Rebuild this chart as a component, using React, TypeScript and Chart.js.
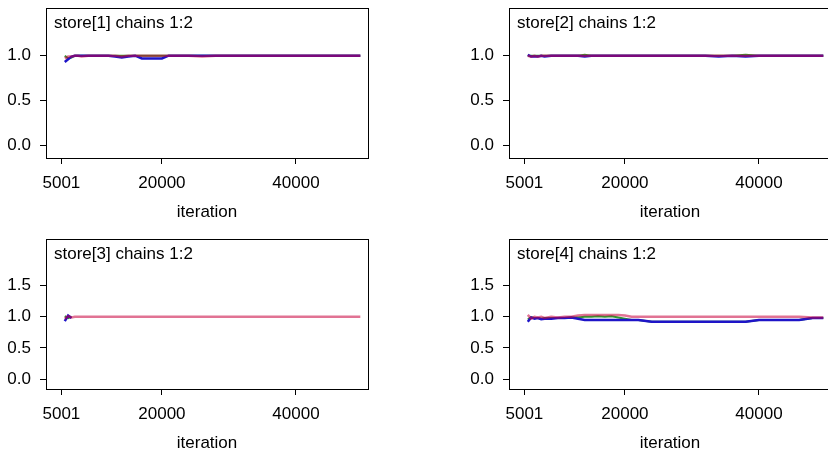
import React, { useEffect, useRef } from 'react';
import { Chart, registerables } from 'chart.js';

Chart.register(...registerables);

const iterations = [
  5501, 6001, 6501, 7001, 7501, 8001, 9001, 10001, 11001, 12001, 13001, 14001,
  15001, 16001, 17001, 18001, 19001, 20001, 21001, 22001, 24001, 26001, 28001,
  30001, 32001, 34001, 36001, 38001, 40001, 42001, 44001, 46001, 48001, 49601,
];

const xTickValues = [5001, 20000, 40000];
const yTicksTop = [0, 0.5, 1.0];
const yTicksBottom = [0, 0.5, 1.0, 1.5];

const panelTitles = [
  'store[1] chains 1:2',
  'store[2] chains 1:2',
  'store[3] chains 1:2',
  'store[4] chains 1:2',
];

// store[1]
const red1 = [0.97, 0.99, 0.99, 1.0, 1.0, 0.99, 1.0, 1.0, 1.0, 1.0, 1.0, 0.99, 1.0, 1.0, 1.0, 1.0, 1.0, 1.0, 1.0, 1.0, 1.0, 0.99, 1.0, 1.0, 1.0, 1.0, 1.0, 1.0, 1.0, 1.0, 1.0, 1.0, 1.0, 1.0];
const blue1 = [0.93, 0.96, 0.99, 1.0, 1.0, 1.0, 1.0, 1.0, 1.0, 1.0, 0.99, 0.98, 0.99, 1.0, 0.97, 0.97, 0.97, 0.97, 1.0, 1.0, 1.0, 1.0, 1.0, 1.0, 1.0, 1.0, 1.0, 1.0, 1.0, 1.0, 1.0, 1.0, 1.0, 1.0];
const green1 = [1.0, 0.97, 0.98, 1.0, 1.0, 1.0, 1.0, 1.0, 1.0, 1.0, 1.0, 1.0, 1.0, 1.0, 1.0, 1.0, 1.0, 1.0, 1.0, 1.0, 1.0, 1.0, 1.0, 1.0, 1.0, 1.0, 1.0, 1.0, 1.0, 1.0, 1.0, 1.0, 1.0, 1.0];

// store[2]
const red2 = [1.0, 0.99, 1.0, 0.99, 1.0, 1.0, 1.0, 1.0, 1.0, 1.0, 1.0, 1.0, 1.0, 1.0, 1.0, 1.0, 1.0, 1.0, 1.0, 1.0, 1.0, 1.0, 1.0, 1.0, 1.0, 1.0, 1.0, 1.0, 1.0, 1.0, 1.0, 1.0, 1.0, 1.0];
const blue2 = [1.01, 0.99, 0.99, 0.99, 1.0, 0.99, 1.0, 1.0, 1.0, 1.0, 1.0, 0.99, 1.0, 1.0, 1.0, 1.0, 1.0, 1.0, 1.0, 1.0, 1.0, 1.0, 1.0, 1.0, 1.0, 0.99, 1.0, 0.99, 1.0, 1.0, 1.0, 1.0, 1.0, 1.0];
const green2 = [1.0, 1.0, 1.0, 1.0, 1.0, 1.0, 1.0, 1.0, 1.0, 1.0, 1.0, 1.01, 1.0, 1.0, 1.0, 1.0, 1.0, 1.0, 1.0, 1.0, 1.0, 1.0, 1.0, 1.0, 1.0, 1.0, 1.0, 1.01, 1.0, 1.0, 1.0, 1.0, 1.0, 1.0];

// store[3]
const red3 = [0.97, 1.01, 0.99, 1.0, 1.0, 1.0, 1.0, 1.0, 1.0, 1.0, 1.0, 1.0, 1.0, 1.0, 1.0, 1.0, 1.0, 1.0, 1.0, 1.0, 1.0, 1.0, 1.0, 1.0, 1.0, 1.0, 1.0, 1.0, 1.0, 1.0, 1.0, 1.0, 1.0, 1.0];
const blue3 = [0.93, 1.02, 0.98, null, null, null, null, null, null, null, null, null, null, null, null, null, null, null, null, null, null, null, null, null, null, null, null, null, null, null, null, null, null, null];
const green3 = [1.01, 0.98, 1.0, null, null, null, null, null, null, null, null, null, null, null, null, null, null, null, null, null, null, null, null, null, null, null, null, null, null, null, null, null, null, null];

// store[4]
const red4 = [1.03, 0.97, 1.0, 0.99, 1.0, 0.98, 1.0, 0.99, 1.0, 1.0, 1.02, 1.03, 1.03, 1.03, 1.03, 1.03, 1.03, 1.02, 1.0, 1.0, 1.0, 1.0, 1.0, 1.0, 1.0, 1.0, 1.0, 1.0, 1.0, 1.0, 1.0, 1.0, 0.99, 0.99];
const blue4 = [0.92, 0.99, 0.97, 0.98, 0.96, 0.97, 0.97, 0.98, 0.98, 0.99, 0.97, 0.95, 0.95, 0.95, 0.95, 0.95, 0.95, 0.95, 0.95, 0.95, 0.92, 0.92, 0.92, 0.92, 0.92, 0.92, 0.92, 0.92, 0.95, 0.95, 0.95, 0.95, 0.98, 0.98];
const green4 = [0.96, 0.99, 0.98, 0.98, 0.97, 0.98, 0.98, 0.98, 0.98, 0.99, 0.99, 1.0, 1.0, 1.01, 1.0, 1.01, 0.99, 0.97, 0.95, 0.95, 0.92, 0.92, 0.92, 0.92, 0.92, 0.92, 0.92, 0.92, 0.95, 0.95, 0.95, 0.95, 0.98, 0.98];

const FONT = "'Liberation Sans', Arial, sans-serif";
const FS = 17;
const CW = 400;
const CH = 231;

type PanelProps = {
  title: string;
  red: (number | null)[];
  blue: (number | null)[];
  green: (number | null)[];
  yMin: number;
  yMax: number;
  yTicks: number[];
  left: number;
  top: number;
};

function Panel(props: PanelProps) {
  const ref = useRef<HTMLCanvasElement | null>(null);
  useEffect(() => {
    if (!ref.current) return;
    const toPts = (arr: (number | null)[]) => iterations.map((x, i) => ({ x, y: arr[i] }));
    const framePlugin = {
      id: 'frame',
      afterDatasetsDraw(chart: any) {
        const { ctx, chartArea } = chart;
        ctx.save();
        ctx.strokeStyle = '#000';
        ctx.lineWidth = 1;
        ctx.strokeRect(
          Math.round(chartArea.left) + 0.5,
          Math.round(chartArea.top) + 0.5,
          Math.round(chartArea.right - chartArea.left),
          Math.round(chartArea.bottom - chartArea.top)
        );
        ctx.fillStyle = '#000';
        ctx.font = `${FS}px ${FONT}`;
        ctx.textBaseline = 'middle';
        ctx.textAlign = 'left';
        ctx.fillText(props.title, chartArea.left + 8, chartArea.top + 15);
        ctx.restore();
      },
    };
    const chart = new Chart(ref.current, {
      type: 'line',
      data: {
        datasets: [
          {
            data: toPts(props.red) as any,
            borderColor: 'rgba(200,0,60,0.55)',
            borderWidth: 2.5,
            pointRadius: 0,
            order: 0,
            spanGaps: false,
          },
          {
            data: toPts(props.blue) as any,
            borderColor: '#1e14c8',
            borderWidth: 2.5,
            pointRadius: 0,
            order: 1,
            spanGaps: false,
          },
          {
            data: toPts(props.green) as any,
            borderColor: '#2f9a2f',
            borderWidth: 2,
            pointRadius: 0,
            order: 2,
            spanGaps: false,
          },
        ],
      },
      options: {
        animation: false,
        responsive: false,
        devicePixelRatio: 1,
        layout: { padding: { left: 0, top: 8, right: 32, bottom: 0 } },
        plugins: { legend: { display: false }, tooltip: { enabled: false } },
        scales: {
          x: {
            type: 'linear',
            min: 2700,
            max: 50750,
            afterBuildTicks: (scale: any) => {
              scale.ticks = xTickValues.map((v) => ({ value: v }));
            },
            afterFit: (scale: any) => {
              scale.height = 73;
              scale.paddingLeft = 0;
              scale.paddingRight = 0;
            },
            ticks: {
              color: '#000',
              font: { size: FS, family: FONT },
              padding: 9,
              maxRotation: 0,
              autoSkip: false,
              callback: (v: any) => String(v),
            },
            grid: { display: true, drawOnChartArea: false, drawTicks: true, tickLength: 6, color: '#000' },
            border: { display: false },
            title: {
              display: true,
              text: 'iteration',
              color: '#000',
              font: { size: FS, family: FONT },
              padding: { top: 0, bottom: 8 },
            },
          },
          y: {
            type: 'linear',
            min: props.yMin,
            max: props.yMax,
            afterBuildTicks: (scale: any) => {
              scale.ticks = props.yTicks.map((v) => ({ value: v }));
            },
            afterFit: (scale: any) => {
              scale.width = 46;
              scale.paddingTop = 0;
              scale.paddingBottom = 0;
            },
            ticks: {
              color: '#000',
              font: { size: FS, family: FONT },
              padding: 9,
              autoSkip: false,
              callback: (v: any) => Number(v).toFixed(1),
            },
            grid: { display: true, drawOnChartArea: false, drawTicks: true, tickLength: 6, color: '#000' },
            border: { display: false },
          },
        },
      },
      plugins: [framePlugin],
    });
    return () => chart.destroy();
  }, []);
  return (
    <canvas
      ref={ref}
      width={CW}
      height={CH}
      style={{ position: 'absolute', left: props.left, top: props.top, width: CW, height: CH }}
    />
  );
}

export default function App() {
  return (
    <div
      style={{
        position: 'fixed',
        left: 0,
        top: 0,
        width: 828,
        height: 457,
        overflow: 'hidden',
        background: '#fff',
      }}
    >
      <Panel title={panelTitles[0]} red={red1} blue={blue1} green={green1} yMin={-0.137} yMax={1.53} yTicks={yTicksTop} left={0} top={0} />
      <Panel title={panelTitles[1]} red={red2} blue={blue2} green={green2} yMin={-0.137} yMax={1.53} yTicks={yTicksTop} left={463} top={0} />
      <Panel title={panelTitles[2]} red={red3} blue={blue3} green={green3} yMin={-0.16} yMax={2.25} yTicks={yTicksBottom} left={0} top={231} />
      <Panel title={panelTitles[3]} red={red4} blue={blue4} green={green4} yMin={-0.16} yMax={2.25} yTicks={yTicksBottom} left={463} top={231} />
    </div>
  );
}
